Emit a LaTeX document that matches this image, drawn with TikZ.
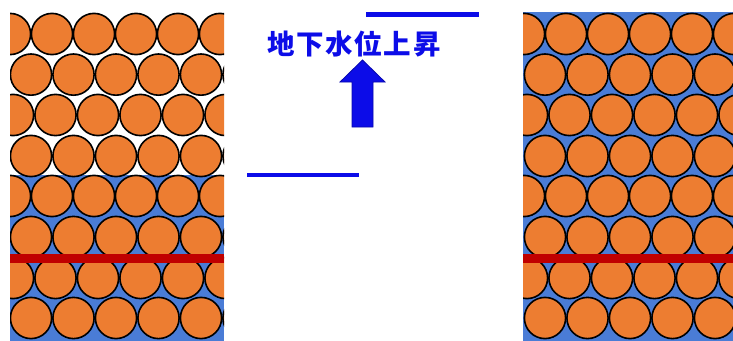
\documentclass[tikz,border=0pt]{standalone}
\usepackage{fontspec}
\newfontfamily\jpfont[LetterSpace=6]{Noto Sans CJK JP}
\definecolor{sand}{RGB}{237,125,49}
\definecolor{water}{RGB}{74,124,214}
\definecolor{clay}{RGB}{192,0,0}
\definecolor{level}{RGB}{12,12,232}
\begin{document}
\begin{tikzpicture}[x=1pt,y=-1pt,
  grain/.style={fill=sand,draw=black,line width=1.6pt},
  wline/.style={draw=level,line width=4.5pt},
  redline/.style={draw=clay,line width=9pt},
  uparrow/.style={fill=level,draw=level!75!black,line width=0.8pt}]
\useasboundingbox (0,0) rectangle (733,340);
\fill[white] (0,0) rectangle (733,340);

% two soil columns: before (left) and after (right) the water table rises
\foreach \px/\wt/\cl/\cr in {0/175/10/224, 514/12/523/733}{
  \begin{scope}
    \clip (\cl,12) rectangle (\cr,341);
    \fill[water] (\cl,\wt) rectangle (\cr,341);
    \foreach \yy/\off/\dx in {34/10/42, 74.6/31/42.5, 115/13/42.5, 156/31/42.5,
                              196/10/42, 237/31/42.5, 278/13/42.5, 318/31/42.5}{
      \foreach \k in {0,...,5}{
        \draw[grain] (\px+\off+\k*\dx,\yy) circle[radius=20.6];
      }
    }
  \end{scope}
  \draw[redline] (\cl,258) -- (\cr,258);
}

% water table levels
\coordinate (lowA) at (247,175);
\coordinate (lowB) at (359,175);
\coordinate (highA) at (366,14.5);
\coordinate (highB) at (479,14.5);
\draw[wline] (lowA) -- (lowB);
\draw[wline] (highA) -- (highB);

% label and rising arrow
\node[text=level,font=\jpfont\fontsize{27.5}{27.5}\selectfont\bfseries,inner sep=0pt]
  (label) at (354,44) {地下水位上昇};
\filldraw[uparrow] (352,127) -- (352,82) -- (340,82) -- (362.5,60) -- (385,82)
  -- (373,82) -- (373,127) -- cycle;
\end{tikzpicture}
\end{document}
